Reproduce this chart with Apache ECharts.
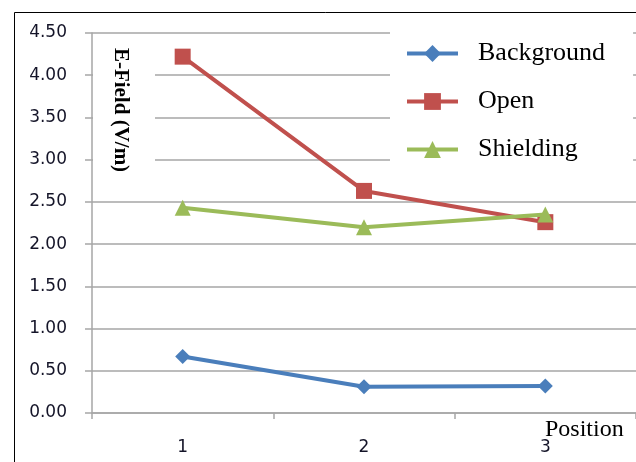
<!DOCTYPE html>
<html>
<head>
<meta charset="utf-8">
<script src="https://cdn.jsdelivr.net/npm/echarts@6/dist/echarts.min.js"></script>
<style>
html,body{margin:0;padding:0;background:#fff;}
#chart{width:636px;height:462px;}
</style>
</head>
<body>
<div id="chart"></div>
<script>
var categories = ['1', '2', '3'];
var backgroundValues = [0.67, 0.31, 0.32];
var openValues = [4.22, 2.63, 2.26];
var shieldingValues = [2.43, 2.20, 2.35];
var seriesNames = ['Background', 'Open', 'Shielding'];
var yTitle = 'E-Field (V/m)';
var xTitle = 'Position';

var chart = echarts.init(document.getElementById('chart'), null, {renderer: 'canvas'});
var gridColor = '#a6a6a6';
var labelFont = {fontFamily: 'DejaVu Sans', fontSize: 17, color: '#141428'};

chart.setOption({
  animation: false,
  backgroundColor: '#fff',
  grid: {left: 92, top: 33, width: 546, height: 380, containLabel: false},
  xAxis: {
    type: 'category',
    data: categories,
    boundaryGap: true,
    axisLine: {show: true, lineStyle: {color: gridColor, width: 1.5}},
    axisTick: {show: true, length: 6, lineStyle: {color: gridColor, width: 1.5}},
    axisLabel: Object.assign({margin: 26}, labelFont),
    splitLine: {show: false}
  },
  yAxis: {
    type: 'value',
    min: 0, max: 4.5, interval: 0.5,
    axisLine: {show: true, lineStyle: {color: gridColor, width: 1.5}},
    axisTick: {show: true, length: 7, lineStyle: {color: gridColor, width: 1.5}},
    axisLabel: Object.assign({margin: 25, formatter: function (v) { return v.toFixed(2); }}, labelFont),
    splitLine: {show: true, lineStyle: {color: gridColor, width: 1.5}}
  },
  legend: {
    orient: 'vertical',
    left: 390, top: 25,
    padding: [15, 28, 19, 15],
    backgroundColor: '#fff',
    itemWidth: 51, itemHeight: 21, itemGap: 21,
    data: seriesNames,
    lineStyle: {width: 4},
    textStyle: {fontFamily: 'Liberation Serif', fontSize: 26, lineHeight: 27, color: '#000', padding: [0, 0, 0, 15]}
  },
  series: [
    {name: seriesNames[0], type: 'line', data: backgroundValues, symbol: 'diamond', symbolSize: 15,
     lineStyle: {width: 4, color: '#4a7ebb'}, itemStyle: {color: '#4a7ebb'}, z: 3},
    {name: seriesNames[1], type: 'line', data: openValues, symbol: 'rect', symbolSize: 16,
     lineStyle: {width: 4, color: '#c0504d'}, itemStyle: {color: '#c0504d'}, z: 3},
    {name: seriesNames[2], type: 'line', data: shieldingValues, symbol: 'triangle', symbolSize: 16,
     lineStyle: {width: 4, color: '#9bbb59'}, itemStyle: {color: '#9bbb59'}, z: 4}
  ],
  graphic: [
    {type: 'rect', shape: {x: 14.5, y: 12.5, width: 700, height: 500}, style: {fill: 'none', stroke: '#000', lineWidth: 1}, z: 10},
    {type: 'rect', shape: {x: 93, y: 40, width: 62, height: 140}, style: {fill: '#fff'}, z: 5},
    {type: 'text', x: 120, y: 110, rotation: -Math.PI / 2,
     style: {text: yTitle, fontFamily: 'Liberation Serif', fontWeight: 'bold', fontSize: 21, fill: '#000', align: 'center', verticalAlign: 'middle'}, z: 6},
    {type: 'text', x: 545, y: 430,
     style: {text: xTitle, fontFamily: 'Liberation Serif', fontSize: 24, fill: '#000', align: 'left', verticalAlign: 'middle'}, z: 6}
  ]
});
</script>
</body>
</html>
